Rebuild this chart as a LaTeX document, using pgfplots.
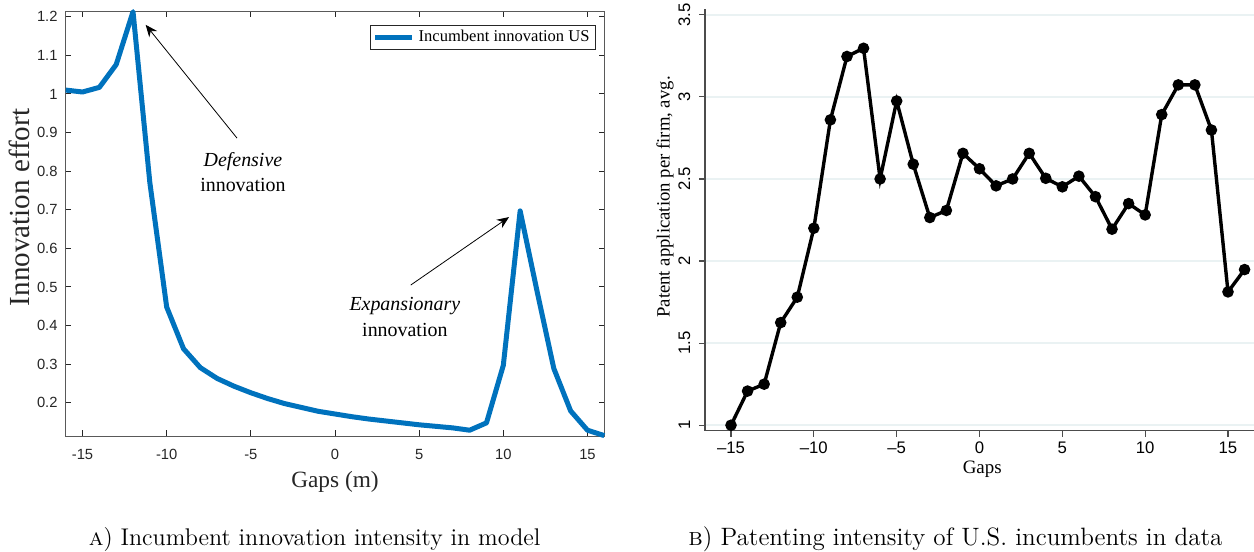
\documentclass[border=0pt]{standalone}
\usepackage{fontspec}
\usepackage{pgfplots}
\pgfplotsset{compat=1.18}
\usepackage{pgfplotstable}
\usetikzlibrary{arrows.meta}
\newfontfamily\tnr{Liberation Serif}
\newfontfamily\arial{Liberation Sans}
\definecolor{mblue}{RGB}{0,114,189}
\definecolor{mgray}{RGB}{38,38,38}
\definecolor{stgrid}{RGB}{234,242,243}

% model: incumbent innovation effort by gap
\pgfplotstableread{
x y
-16 1.010
-15 1.005
-14 1.017
-13 1.076
-12 1.213
-11 0.770
-10 0.448
-9 0.340
-8 0.291
-7 0.263
-6 0.243
-5 0.226
-4 0.211
-3 0.198
-2 0.188
-1 0.178
0 0.171
1 0.164
2 0.158
3 0.153
4 0.148
5 0.143
6 0.139
7 0.135
8 0.129
9 0.148
10 0.297
11 0.697
12 0.490
13 0.289
14 0.179
15 0.129
16 0.115
}\modeltab

% data: patent applications per firm by gap
\pgfplotstableread{
x y
-15 1.000
-14 1.208
-13 1.250
-12 1.625
-11 1.780
-10 2.200
-9 2.860
-8 3.246
-7 3.296
-6 2.500
-5 2.975
-4 2.590
-3 2.265
-2 2.308
-1 2.656
0 2.562
1 2.458
2 2.500
3 2.656
4 2.504
5 2.452
6 2.517
7 2.392
8 2.194
9 2.350
10 2.281
11 2.892
12 3.073
13 3.073
14 2.798
15 1.812
16 1.948
}\datatab

\begin{document}
\begin{tikzpicture}
\useasboundingbox (0,0) rectangle (627bp,276bp);

% panel A
\begin{axis}[
    at={(32.85bp,58bp)}, anchor=south west,
    scale only axis, width=269.3bp, height=212.15bp,
    xmin=-16, xmax=16, ymin=0.114, ymax=1.213,
    xtick={-15,-10,-5,0,5,10,15},
    xticklabels={-15,-10,-5,0,5,10,15},
    ytick={0.2,0.3,0.4,0.5,0.6,0.7,0.8,0.9,1,1.1,1.2},
    yticklabels={0.2,0.3,0.4,0.5,0.6,0.7,0.8,0.9,1,1.1,1.2},
    tick align=inside, major tick length=2.8bp,
    tick style={mgray, line width=0.5bp},
    axis line style={black!65, line width=0.5bp},
    ticklabel style={font=\arial\fontsize{7.4}{8}\selectfont, text=mgray, inner sep=0pt},
    xticklabel style={anchor=north}, xticklabel shift=6.5bp,
    yticklabel style={anchor=east}, yticklabel shift=3.9bp,
    xlabel={Gaps (m)},
    xlabel style={font=\tnr\fontsize{11.7}{12}\selectfont, text=mgray,
        at={(axis description cs:0.5,-0.1077)}, anchor=center},
    ylabel={Innovation effort},
    ylabel style={font=\tnr\fontsize{14.6}{15}\selectfont, text=mgray,
        at={(axis description cs:-0.0858,0.5385)}, anchor=center},
    legend style={at={(axis description cs:1,1)}, anchor=north east,
        xshift=-4.15bp, yshift=-6.65bp, draw=mgray, line width=0.5bp,
        font=\tnr\fontsize{8.3}{9}\selectfont, inner xsep=1bp, inner ysep=0.5bp},
    legend cell align=left,
    legend image code/.code={\draw[#1, line width=2.6bp] (0bp,0bp) -- (18.3bp,0bp);},
    clip=false,
]
\addplot[mblue, line width=2.5bp, line join=round] table[x=x, y=y] {\modeltab};
\addlegendentry{Incumbent innovation US}
\draw[-{Stealth[length=6bp, width=5bp]}, line width=0.4bp]
    (axis cs:-5.82,0.8855) -- (axis cs:-11.25,1.179);
\draw[-{Stealth[length=6bp, width=5bp]}, line width=0.4bp]
    (axis cs:4.5,0.505) -- (axis cs:10.34,0.681);
\node[font=\tnr\fontsize{10}{11}\selectfont\itshape] at (axis cs:-5.47,0.825) {Defensive};
\node[font=\tnr\fontsize{10}{11}\selectfont] at (axis cs:-5.47,0.7644) {innovation};
\node[font=\tnr\fontsize{10}{11}\selectfont\itshape] at (axis cs:4.15,0.4507) {Expansionary};
\node[font=\tnr\fontsize{10}{11}\selectfont] at (axis cs:4.15,0.3885) {innovation};
\end{axis}

% panel B
\begin{axis}[
    at={(352.5bp,60.65bp)}, anchor=south west,
    scale only axis, width=274.5bp, height=210.7bp,
    xmin=-16.57, xmax=16.57, ymin=0.9666, ymax=3.5334,
    axis x line=bottom, axis y line=left,
    axis line style={-, black!70, line width=0.6bp},
    tick align=outside, major tick length=3bp,
    tick style={black!70, line width=0.6bp},
    xtick={-15,-10,-5,0,5,10,15},
    xticklabels={–15,–10,–5,0,5,10,15},
    ytick={1,1.5,2,2.5,3,3.5},
    yticklabels={1,1.5,2,2.5,3,3.5},
    ymajorgrids, major grid style={stgrid, line width=1bp},
    ticklabel style={font=\arial\fontsize{8.4}{9}\selectfont, text=black, inner sep=0pt},
    xticklabel style={anchor=north}, xticklabel shift=2.6bp,
    yticklabel style={rotate=90, anchor=south}, yticklabel shift=4.2bp,
    xlabel={Gaps},
    xlabel style={font=\tnr\fontsize{9.5}{10}\selectfont,
        at={(axis description cs:0.505,-0.0925)}, anchor=center},
    ylabel={Patent application per firm, avg.},
    ylabel style={font=\tnr\fontsize{9.4}{10}\selectfont,
        at={(axis description cs:-0.0729,0.5546)}, anchor=center},
]
\addplot[black, line width=1.7bp, mark=*, mark size=2bp] table[x=x, y=y] {\datatab};
\end{axis}

\node[font=\fontsize{12.1}{14}\selectfont, anchor=base] at (157.3bp,3.5bp)
    {\textsc{a}) Incumbent innovation intensity in model};
\node[font=\fontsize{12.6}{14}\selectfont, anchor=base] at (477.7bp,3.5bp)
    {\textsc{b}) Patenting intensity of U.S. incumbents in data};
\end{tikzpicture}
\end{document}
